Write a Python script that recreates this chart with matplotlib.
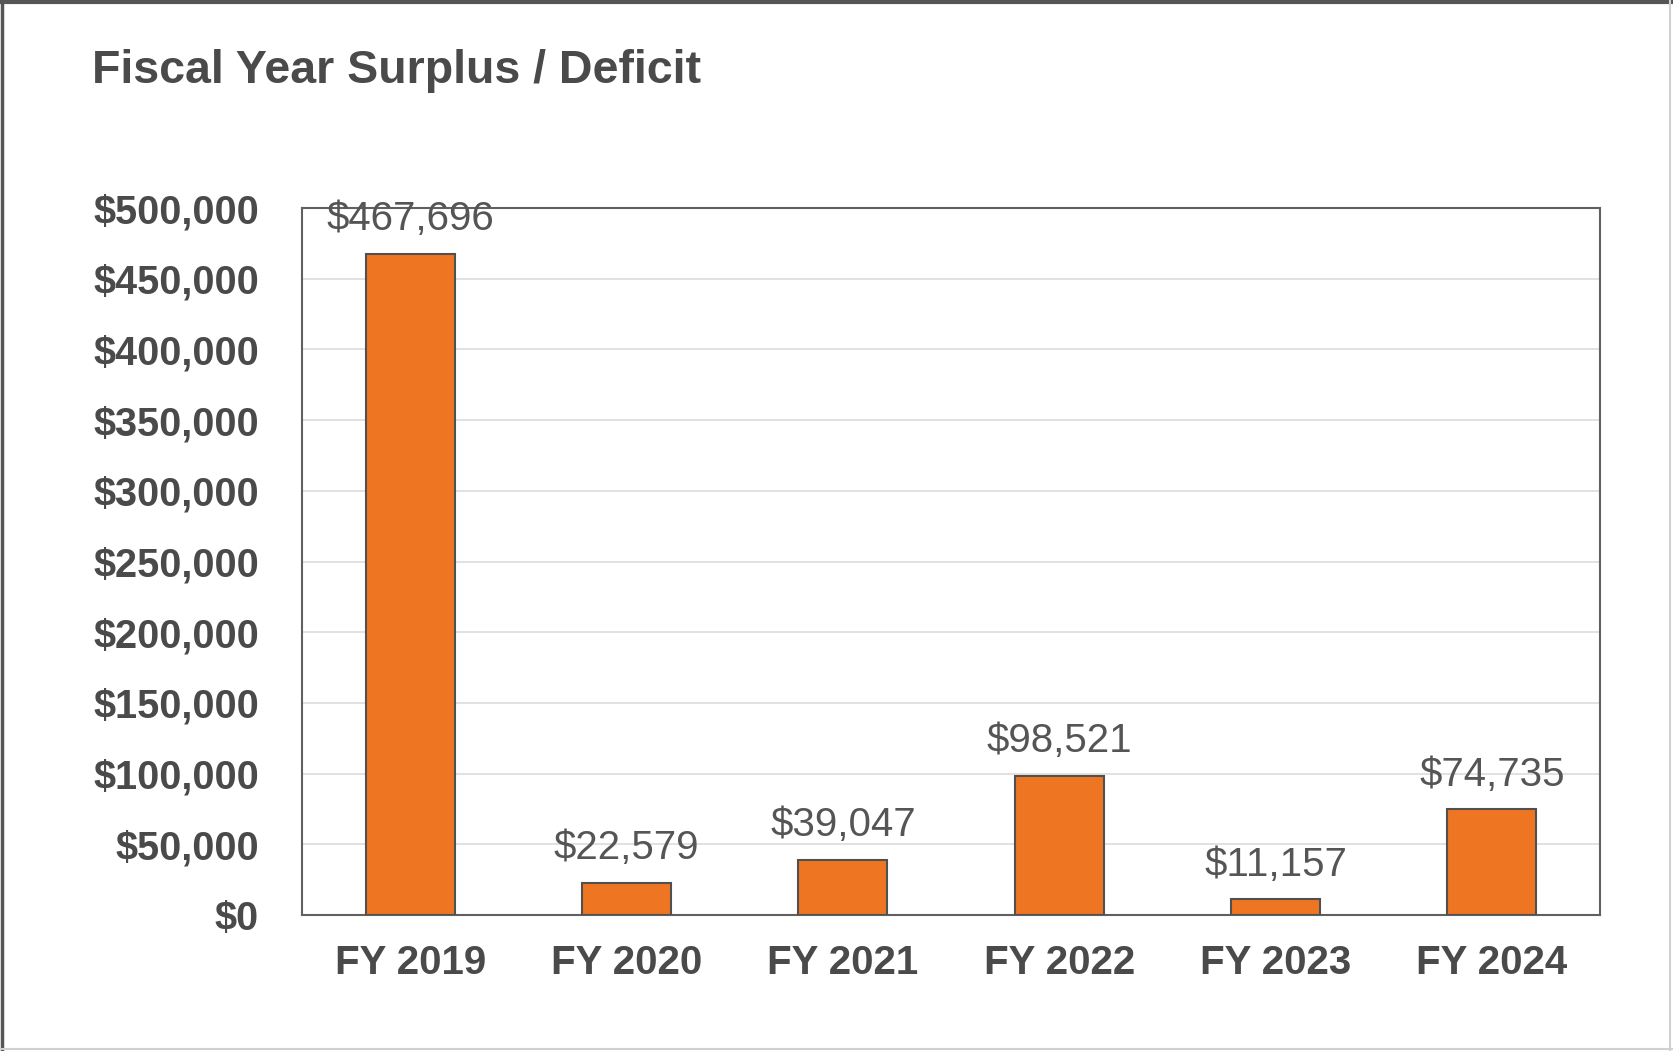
import matplotlib
matplotlib.use('Agg')
import matplotlib.pyplot as plt
from matplotlib.lines import Line2D
from matplotlib.ticker import FuncFormatter

# data
years = ['FY 2019', 'FY 2020', 'FY 2021', 'FY 2022', 'FY 2023', 'FY 2024']
surplus = [467696, 22579, 39047, 98521, 11157, 74735]
yticks = list(range(0, 500001, 50000))

plt.rcParams['font.family'] = ['Liberation Sans', 'DejaVu Sans']

text_col = '#4a4a4a'
bar_col = '#EE7623'

fig = plt.figure(figsize=(16.73, 10.51), dpi=100)
ax = fig.add_axes([302 / 1673, 1 - 915 / 1051, (1600 - 302) / 1673, (915 - 208) / 1051])

x = list(range(len(years)))
ax.bar(x, surplus, width=0.41, color=bar_col, edgecolor='#505050', linewidth=1.5, zorder=3)

for xi, v in zip(x, surplus):
    ax.annotate('${:,}'.format(v), (xi, v), xytext=(0, 25), textcoords='offset points',
                ha='center', va='center', fontsize=29, color='#555555', zorder=4)

ax.set_xlim(-0.5, len(years) - 0.5)
ax.set_ylim(0, 500000)
ax.set_yticks(yticks)
ax.yaxis.set_major_formatter(FuncFormatter(lambda v, p: '${:,.0f}'.format(v)))
ax.set_xticks(x)
ax.set_xticklabels(years)
ax.tick_params(axis='both', length=0, colors=text_col)
ax.tick_params(axis='y', labelsize=28.5, pad=31)
ax.tick_params(axis='x', labelsize=29, pad=21)
for lab in ax.get_xticklabels() + ax.get_yticklabels():
    lab.set_fontweight('bold')

ax.grid(axis='y', color='#dcdcdc', linewidth=1.2, zorder=0)
for s in ax.spines.values():
    s.set_color('#606060')
    s.set_linewidth(1.5)

fig.text(92 / 1673, 1 - 71 / 1051, 'Fiscal Year Surplus / Deficit', fontsize=33.5,
         fontweight='bold', color=text_col, ha='left', va='center')

# outer frame: dark on top/left, light on right/bottom
fig.add_artist(Line2D([0, 1], [0.998, 0.998], transform=fig.transFigure, color='#555555', linewidth=3))
fig.add_artist(Line2D([0.001, 0.001], [0, 1], transform=fig.transFigure, color='#555555', linewidth=2.5))
fig.add_artist(Line2D([0.9985, 0.9985], [0, 1], transform=fig.transFigure, color='#d0d0d0', linewidth=1.5))
fig.add_artist(Line2D([0, 1], [0.002, 0.002], transform=fig.transFigure, color='#d0d0d0', linewidth=1.5))

fig.savefig('out.png', dpi=100)
